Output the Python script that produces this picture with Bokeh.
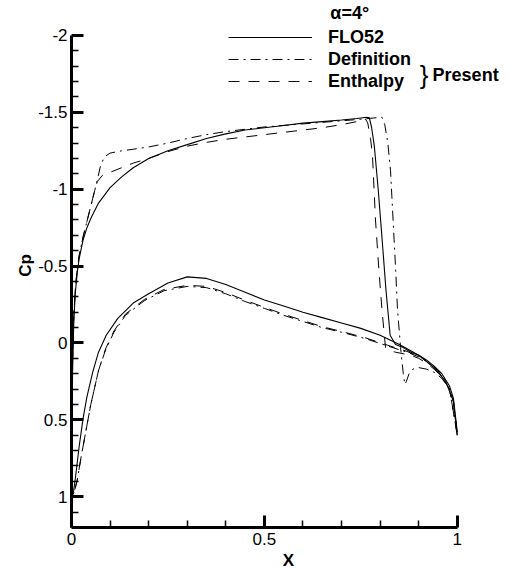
from bokeh.plotting import figure
from bokeh.models import Range1d, FixedTicker, Legend, LegendItem, Label
from bokeh.embed import file_html
from bokeh.resources import INLINE

# ---------------- data ----------------
# FLO52 (solid)
flo_up_x = [0.0, 0.001, 0.003, 0.006, 0.01, 0.015, 0.02, 0.03, 0.04, 0.05, 0.07, 0.1, 0.13, 0.16,
            0.2, 0.25, 0.3, 0.35, 0.4, 0.45, 0.5, 0.55, 0.6, 0.65, 0.7, 0.74, 0.765, 0.772, 0.778,
            0.785, 0.795, 0.805, 0.815, 0.826, 0.84, 0.86, 0.88, 0.9, 0.92, 0.94, 0.96, 0.98, 0.99, 1.0]
flo_up_cp = [0.95, 0.6, 0.15, -0.15, -0.33, -0.46, -0.55, -0.67, -0.75, -0.81, -0.91, -1.01, -1.08, -1.14,
             -1.2, -1.25, -1.29, -1.33, -1.36, -1.385, -1.40, -1.415, -1.43, -1.44, -1.45, -1.46, -1.468, -1.465, -1.40,
             -1.28, -1.0, -0.68, -0.35, -0.05, 0.01, 0.03, 0.06, 0.08, 0.11, 0.15, 0.2, 0.28, 0.36, 0.58]
flo_lo_x = [0.0, 0.002, 0.005, 0.01, 0.02, 0.03, 0.04, 0.055, 0.07, 0.09, 0.12, 0.16, 0.2, 0.25, 0.3,
            0.35, 0.4, 0.45, 0.5, 0.55, 0.6, 0.65, 0.7, 0.75, 0.8, 0.85, 0.9, 0.94, 0.97, 0.99, 1.0]
flo_lo_cp = [0.95, 1.0, 0.97, 0.88, 0.67, 0.49, 0.35, 0.19, 0.06, -0.05, -0.16, -0.26, -0.32, -0.39, -0.43,
             -0.42, -0.38, -0.33, -0.28, -0.24, -0.2, -0.165, -0.13, -0.095, -0.05, 0.01, 0.08, 0.16, 0.25, 0.38, 0.6]

# Definition (dash-dot)
def_up_x = [0.0, 0.001, 0.003, 0.006, 0.01, 0.015, 0.02, 0.03, 0.04, 0.05, 0.06, 0.067, 0.075, 0.085, 0.1,
            0.13, 0.16, 0.2, 0.25, 0.3, 0.35, 0.4, 0.45, 0.5, 0.55, 0.6, 0.65, 0.7, 0.75, 0.79, 0.805,
            0.812, 0.82, 0.827, 0.834, 0.84, 0.845, 0.853, 0.86, 0.864, 0.868, 0.875, 0.885, 0.9, 0.92,
            0.94, 0.96, 0.98, 0.99, 1.0]
def_up_cp = [0.9, 0.55, 0.1, -0.18, -0.36, -0.48, -0.57, -0.69, -0.79, -0.89, -0.99, -1.06, -1.15, -1.21, -1.235,
             -1.25, -1.26, -1.275, -1.30, -1.33, -1.355, -1.375, -1.39, -1.405, -1.415, -1.425, -1.435, -1.445, -1.455, -1.465, -1.468,
             -1.42, -1.3, -1.12, -0.78, -0.49, -0.22, 0.03, 0.2, 0.27, 0.25, 0.2, 0.17, 0.16, 0.17,
             0.19, 0.23, 0.3, 0.38, 0.6]
def_lo_x = [0.0, 0.003, 0.007, 0.015, 0.025, 0.036, 0.05, 0.07, 0.088, 0.11, 0.14, 0.19, 0.24, 0.3, 0.35,
            0.4, 0.45, 0.5, 0.55, 0.6, 0.65, 0.7, 0.76, 0.82, 0.87, 0.91, 0.95, 0.98, 1.0]
def_lo_cp = [0.9, 0.99, 0.97, 0.89, 0.74, 0.59, 0.4, 0.18, 0.047, -0.07, -0.18, -0.277, -0.34, -0.368, -0.36,
             -0.32, -0.27, -0.225, -0.18, -0.14, -0.1, -0.07, -0.03, 0.02, 0.06, 0.1, 0.18, 0.3, 0.6]

# Enthalpy (dashed)
ent_up_x = [0.0, 0.001, 0.003, 0.006, 0.01, 0.015, 0.02, 0.03, 0.04, 0.05, 0.06, 0.067, 0.08, 0.1, 0.13,
            0.16, 0.2, 0.25, 0.3, 0.35, 0.4, 0.45, 0.5, 0.55, 0.6, 0.65, 0.7, 0.74, 0.762, 0.768, 0.775,
            0.78, 0.788, 0.797, 0.805, 0.814, 0.825, 0.84, 0.86, 0.88, 0.9, 0.92, 0.94, 0.96, 0.98, 0.99, 1.0]
ent_up_cp = [0.9, 0.55, 0.1, -0.18, -0.36, -0.48, -0.57, -0.69, -0.79, -0.89, -0.99, -1.05, -1.09, -1.11, -1.14,
             -1.17, -1.2, -1.245, -1.28, -1.305, -1.325, -1.34, -1.355, -1.37, -1.385, -1.4, -1.42, -1.44, -1.457, -1.43, -1.33,
             -1.23, -0.8, -0.47, -0.21, 0.03, 0.05, 0.06, 0.07, 0.08, 0.1, 0.13, 0.17, 0.22, 0.3, 0.38, 0.6]
ent_lo_x = [0.0, 0.003, 0.007, 0.015, 0.025, 0.036, 0.05, 0.07, 0.088, 0.11, 0.14, 0.19, 0.24, 0.3, 0.35,
            0.4, 0.45, 0.5, 0.55, 0.6, 0.65, 0.7, 0.76, 0.82, 0.87, 0.91, 0.95, 0.98, 1.0]
ent_lo_cp = [0.9, 0.99, 0.97, 0.89, 0.74, 0.59, 0.4, 0.18, 0.04, -0.078, -0.188, -0.285, -0.348, -0.375, -0.368,
             -0.328, -0.278, -0.232, -0.187, -0.146, -0.106, -0.075, -0.035, 0.015, 0.055, 0.1, 0.18, 0.3, 0.6]

x_ticks = [0, 0.5, 1]
x_tick_labels = ["0", "0.5", "1"]
x_minor = [0.1, 0.2, 0.3, 0.4, 0.6, 0.7, 0.8, 0.9]
y_ticks = [-2, -1.5, -1, -0.5, 0, 0.5, 1]
y_tick_labels = ["-2", "-1.5", "-1", "-0.5", "0", "0.5", "1"]
y_minor = [-1.9, -1.8, -1.7, -1.6, -1.4, -1.3, -1.2, -1.1, -0.9, -0.8, -0.7, -0.6, -0.4, -0.3, -0.2, -0.1,
           0.1, 0.2, 0.3, 0.4, 0.6, 0.7, 0.8, 0.9, 1.1]

series_names = ["FLO52", "Definition", "Enthalpy"]

# ---------------- figure ----------------
FONT = "Liberation Sans"
# frame extends past the axes (axes are bounded) so that the key texts are not clipped
p = figure(frame_width=434, frame_height=524, x_range=Range1d(0, 1.125), y_range=Range1d(1.2, -2.208),
           output_backend="svg", toolbar_location=None,
           min_border_left=71, min_border_right=4, min_border_top=3, min_border_bottom=38)
p.outline_line_color = None
p.grid.visible = False
p.background_fill_color = "white"

styles = [("solid", 1.1), ("10 5 2 5", 1.0), ("11 9", 1.0)]
data = [(flo_up_x, flo_up_cp, flo_lo_x, flo_lo_cp),
        (def_up_x, def_up_cp, def_lo_x, def_lo_cp),
        (ent_up_x, ent_up_cp, ent_lo_x, ent_lo_cp)]
items = []
for name, (dash, lw), (ux, uy, lx, ly) in zip(series_names, styles, data):
    r1 = p.line(ux, uy, line_color="black", line_width=lw, line_dash=dash)
    p.line(lx, ly, line_color="black", line_width=lw, line_dash=dash)
    items.append(LegendItem(label=name, renderers=[r1]))

legend = Legend(items=items, location=(157, 435), padding=0, margin=0, spacing=0,
                glyph_width=84, glyph_height=22, label_height=22, label_standoff=16,
                border_line_color=None, background_fill_alpha=0,
                label_text_font=FONT, label_text_font_style="bold", label_text_font_size="18px",
                label_text_color="black")
p.add_layout(legend)

for ax in (p.xaxis[0], p.yaxis[0]):
    ax.axis_line_width = 3
    ax.axis_line_color = "black"
    ax.major_tick_in = 12
    ax.major_tick_out = 0
    ax.minor_tick_in = 7
    ax.minor_tick_out = 0
    ax.major_tick_line_width = 3
    ax.minor_tick_line_width = 1.5
    ax.major_label_text_font = FONT
    ax.major_label_text_font_size = "17px"
    ax.major_label_text_color = "black"
    ax.axis_label_text_font = FONT
    ax.axis_label_text_font_style = "bold"
    ax.axis_label_text_font_size = "17px"
    ax.axis_label_text_color = "black"
    ax.axis_label_standoff = 0
    ax.major_label_standoff = 5

p.xaxis.ticker = FixedTicker(ticks=x_ticks, minor_ticks=x_minor)
p.xaxis.major_label_overrides = dict(zip(x_ticks, x_tick_labels))
p.xaxis.axis_label = "X"
p.xaxis.bounds = (0, 1)
p.xaxis.axis_label_standoff = 3
p.yaxis.ticker = FixedTicker(ticks=y_ticks, minor_ticks=y_minor)
p.yaxis.major_label_overrides = dict(zip(y_ticks, y_tick_labels))
p.yaxis.axis_label = "Cp"
p.yaxis.bounds = (-2, 1.2)
p.yaxis.major_label_standoff = 4

p.add_layout(Label(x=0.671, y=-2.143, text="α=4°", text_font=FONT, text_font_style="bold",
                   text_font_size="18px", text_baseline="middle", text_color="black"))
p.add_layout(Label(x=0.903, y=-1.746, text="}", text_font=FONT, text_font_size="26px",
                   text_baseline="middle", text_color="black"))
p.add_layout(Label(x=0.936, y=-1.746, text="Present", text_font=FONT, text_font_style="bold",
                   text_font_size="18px", text_baseline="middle", text_color="black"))

open("out.html", "w").write(file_html(p, INLINE))
